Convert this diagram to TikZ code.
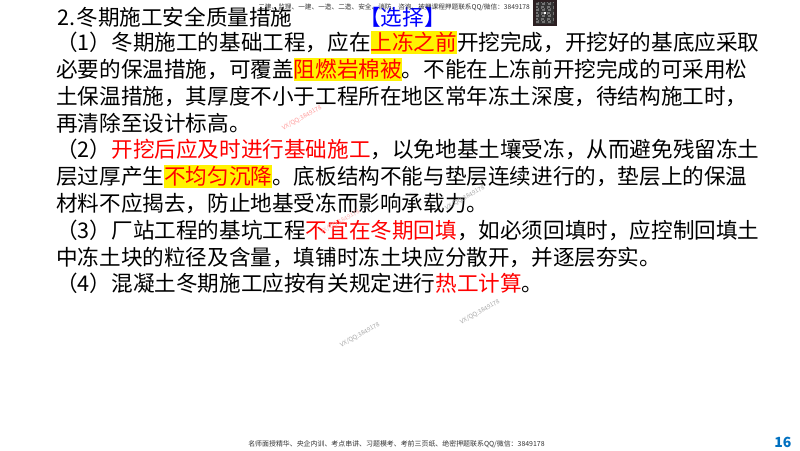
\documentclass[tikz,border=0pt]{standalone}
\usepackage{fontspec}
\usepackage{xcolor}
\setmainfont{Noto Sans CJK SC}
\definecolor{keyred}{RGB}{255,0,0}
\definecolor{keyblue}{RGB}{0,0,255}
\definecolor{pagenum}{RGB}{0,112,192}
\definecolor{qrdark}{RGB}{45,32,34}
\newcommand{\redtxt}[1]{\textcolor{keyred}{#1}}
\newcommand{\hltxt}[1]{{\setlength{\fboxsep}{0pt}\colorbox{yellow}{\rule[-3.2pt]{0pt}{17.2pt}\textcolor{keyred}{#1}}}}
\begin{document}
\begin{tikzpicture}[x=0.75pt,y=-0.75pt]
            \tikzstyle{every node}=[inner sep=0pt, anchor=base west, font=\fontsize{16.2pt}{18pt}\selectfont]
            \tikzstyle{wmark}=[font=\fontsize{4.6pt}{5pt}\selectfont, text=black!35, anchor=center, rotate=29]
            \tikzstyle{small}=[font=\fontsize{5.2pt}{6pt}\selectfont, text=black!80]
            \useasboundingbox (0,0) rectangle (800,450);
            % top line
            \node (head) at (57,25) {2.\hspace{1pt}冬期施工安全质量措施};
            \node (pick) at (359,25) {\textcolor{keyblue}{【选择】}};
            \node[small, font=\fontsize{5pt}{6pt}\selectfont] (top) at (258,9) {二建、监理、一建、一造、二造、安全、消防、咨询、被押课程押题联系QQ/微信：3849178};
            % code square
            \fill[qrdark] (533,0) rectangle (557,26);
            \fill[black!55] (536,2) rectangle (554,24);
            \foreach \i in {0,...,11}
                \foreach \j in {0,...,14}{
                    \pgfmathtruncatemacro{\cellv}{mod(\i*\i*7+\j*\j*3+\i*\j*5,4)}
                    \ifnum\cellv<2
                        \fill[black!80] (536+1.5*\i,2+1.467*\j) rectangle ++(1.5,1.467);
                    \fi
                }
            \fill[white] (543.5,11.5) rectangle (546,14);
            % body lines
            \node (11) at (56,50) {（1）冬期施工的基础工程，应在\hltxt{上冻之前}开挖完成，开挖好的基底应采取};
            \node (12) at (56,77) {必要的保温措施，可覆盖\hltxt{阻燃岩棉被}。不能在上冻前开挖完成的可采用松};
            \node (13) at (56,104) {土保温措施，其厚度不小于工程所在地区常年冻土深度，待结构施工时，};
            \node (14) at (56,131) {再清除至设计标高。};
            \node (21) at (56,157) {（2）\redtxt{开挖后应及时进行基础施工}，以免地基土壤受冻，从而避免残留冻土};
            \node (22) at (56,184) {层过厚产生\hltxt{不均匀沉降}。底板结构不能与垫层连续进行的，垫层上的保温};
            \node (23) at (56,211) {材料不应揭去，防止地基受冻而影响承载力。};
            \node (31) at (56,238) {（3）厂站工程的基坑工程\redtxt{不宜在冬期回填}，如必须回填时，应控制回填土};
            \node (32) at (56,265) {中冻土块的粒径及含量，填铺时冻土块应分散开，并逐层夯实。};
            \node (41) at (56,291) {（4）混凝土冬期施工应按有关规定进行\redtxt{热工计算}。};
            % watermarks
            \node[wmark, text=keyred!40] (m1) at (302,118) {VX/QQ:3849178};
            \node[wmark] (m2) at (465,198) {VX/QQ:3849178};
            \node[wmark, text=keyred!30] (m3) at (340,222) {VX/QQ:3849178};
            \node[wmark] (m4) at (480,312) {VX/QQ:3849178};
            \node[wmark] (m5) at (360,335) {VX/QQ:3849178};
            % footer
            \node[small] (foot) at (248,446) {名师面授精华、央企内训、考点串讲、习题模考、考前三页纸、绝密押题联系QQ/微信：3849178};
            \node[font=\fontsize{10.5pt}{12pt}\selectfont\bfseries, text=pagenum] (page) at (774,447) {16};
        \end{tikzpicture}
\end{document}
